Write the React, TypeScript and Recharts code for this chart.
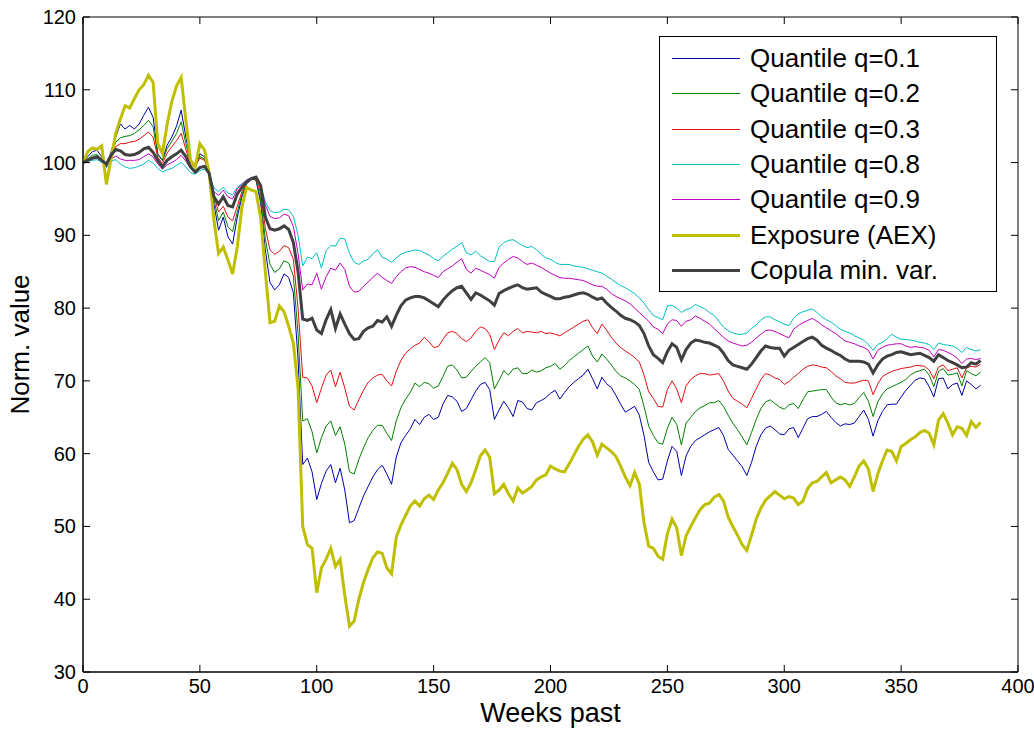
import { LineChart, Line, XAxis, YAxis, Legend, ReferenceArea } from "recharts";

// weekly values, read every 2 weeks off the original plot
const weeks = [
  0, 2, 4, 6, 8, 10, 12, 14, 16, 18,
  20, 22, 24, 26, 28, 30, 32, 34, 36, 38,
  40, 42, 44, 46, 48, 50, 52, 54, 56, 58,
  60, 62, 64, 66, 68, 70, 72, 74, 76, 78,
  80, 82, 84, 86, 88, 90, 92, 94, 96, 98,
  100, 102, 104, 106, 108, 110, 112, 114, 116, 118,
  120, 122, 124, 126, 128, 130, 132, 134, 136, 138,
  140, 142, 144, 146, 148, 150, 152, 154, 156, 158,
  160, 162, 164, 166, 168, 170, 172, 174, 176, 178,
  180, 182, 184, 186, 188, 190, 192, 194, 196, 198,
  200, 202, 204, 206, 208, 210, 212, 214, 216, 218,
  220, 222, 224, 226, 228, 230, 232, 234, 236, 238,
  240, 242, 244, 246, 248, 250, 252, 254, 256, 258,
  260, 262, 264, 266, 268, 270, 272, 274, 276, 278,
  280, 282, 284, 286, 288, 290, 292, 294, 296, 298,
  300, 302, 304, 306, 308, 310, 312, 314, 316, 318,
  320, 322, 324, 326, 328, 330, 332, 334, 336, 338,
  340, 342, 344, 346, 348, 350, 352, 354, 356, 358,
  360, 362, 364, 366, 368, 370, 372, 374, 376, 378,
  380, 382, 384,
];

const q01 = [
  100, 100.8, 101.5, 101.7, 100.8, 99.4, 101.5, 103.5, 105.3, 104.6,
  105.1, 104.6, 105.3, 106.5, 107.6, 106.2, 101.2, 100.3, 102.4, 103.5,
  105.0, 107.2, 103.5, 100.3, 99.4, 101.2, 100.8, 98.5, 94.3, 90.7,
  92.5, 89.8, 88.8, 92.5, 95.3, 97.1, 97.8, 97.6, 94.5, 88.0,
  83.5, 82.5, 83.2, 84.7, 84.2, 82.1, 73.0, 58.5, 59.4, 57.5,
  53.7, 55.9, 57.6, 58.5, 56.0, 58.0, 55.0, 50.5, 50.8, 52.5,
  54.2, 55.5, 56.8, 57.8, 58.4, 57.2, 55.8, 59.5, 61.5, 62.5,
  63.4, 64.7, 64.0, 65.0, 65.4, 64.7, 65.0, 66.8, 68.0, 67.8,
  67.2, 65.8, 66.2, 67.4, 68.6, 69.5, 69.8, 68.8, 64.7, 66.0,
  67.2, 66.3, 65.1, 67.3, 67.1, 66.2, 66.0, 67.0, 67.3, 67.7,
  68.3, 68.7, 67.5, 68.4, 69.2, 69.8, 70.3, 70.8, 71.6, 70.3,
  68.9, 70.5, 69.6, 69.1, 68.0, 66.8, 65.7, 66.1, 66.5, 65.3,
  62.5, 58.8, 57.5, 56.4, 56.5, 59.0, 61.0, 60.3, 57.0, 59.7,
  61.0, 61.8, 62.2, 62.6, 63.0, 63.3, 63.6, 62.5, 60.6, 59.8,
  59.0, 58.2, 57.0, 58.8, 61.0, 62.6, 63.5, 63.8, 63.3, 62.7,
  62.6, 63.4, 63.6, 62.2, 63.5, 64.8, 65.1, 65.1, 65.4, 65.8,
  65.0, 64.3, 63.8, 64.1, 64.0, 64.2, 65.1, 66.0, 64.7, 62.4,
  64.5, 65.8, 66.7, 66.8, 66.8, 67.8, 68.7, 69.4, 70.1, 70.4,
  70.3, 69.2, 67.8, 70.3, 70.4, 68.9, 69.5, 69.7, 68.0, 70.0,
  69.5, 68.9, 69.4,
];

const q02 = [
  100, 100.5, 101.0, 101.1, 100.5, 99.6, 101.2, 102.8, 103.4, 103.6,
  103.7, 104.0, 104.5, 105.1, 105.8, 104.9, 101.0, 100.3, 101.9, 102.9,
  104.0, 105.6, 102.6, 100.0, 99.6, 100.8, 100.5, 98.7, 95.0, 92.0,
  93.2, 91.2, 90.5, 93.2, 95.6, 97.2, 97.8, 97.6, 95.0, 89.5,
  86.0, 84.9, 85.4, 86.5, 86.2, 84.4, 76.5, 64.5, 64.8, 63.0,
  60.1, 62.2, 63.8, 64.5, 62.5, 63.7, 61.3, 57.5, 57.2, 59.2,
  60.8, 62.2, 63.2, 63.9, 63.9, 62.8, 61.8, 64.5, 66.3, 67.5,
  68.4, 69.7, 69.2, 69.8, 69.6, 69.0, 69.3, 70.6, 72.0, 72.2,
  71.5, 70.4, 70.5, 71.3, 72.0, 72.6, 73.2, 72.5, 68.9, 70.1,
  71.4, 70.8, 71.6, 71.8, 71.0, 71.0, 71.5, 71.2, 71.4, 71.8,
  72.0, 72.4, 71.6, 72.1, 72.8, 73.3, 73.8, 74.3, 74.8, 73.4,
  72.6, 73.7, 73.0, 72.2, 71.3, 70.7, 70.4, 70.0, 69.5, 68.8,
  66.5, 63.8, 62.5, 61.5, 61.3, 63.5, 65.0, 64.0, 61.2, 64.2,
  65.0, 65.8, 66.3, 66.6, 67.0, 67.0, 67.3, 66.5, 65.3, 64.2,
  63.3, 62.3, 61.2, 62.9, 64.7, 66.2, 67.1, 67.4, 66.9, 66.4,
  66.1, 66.7, 66.9, 66.2, 67.4, 68.5, 68.6, 68.7, 68.8, 68.8,
  67.8, 67.0, 66.7, 66.9, 66.7, 66.9, 67.7, 68.4, 67.2, 65.1,
  67.1, 68.2, 68.9, 69.2, 69.5, 69.8, 70.2, 70.8, 71.2, 71.4,
  71.6, 70.8, 69.2, 71.3, 71.7, 70.8, 70.9, 71.1, 69.3, 71.4,
  71.0, 70.7, 71.2,
];

const q03 = [
  100, 100.4, 100.7, 100.8, 100.4, 99.7, 101.0, 102.2, 102.6, 102.6,
  102.8, 102.9, 103.2, 103.7, 104.2, 103.5, 100.7, 99.9, 101.3, 102.2,
  103.0, 104.0, 101.8, 99.6, 99.5, 100.6, 100.3, 98.8, 95.5, 93.2,
  94.0, 92.5, 92.0, 94.0, 96.0, 97.3, 97.9, 97.7, 95.8, 91.0,
  88.0, 87.4, 87.8, 88.6, 88.3, 86.7, 80.0, 70.5, 70.4, 69.3,
  67.0, 69.0, 70.8, 71.5, 69.2, 71.2, 69.0, 66.5, 66.0, 67.4,
  68.7, 69.8, 70.4, 70.8, 70.9, 70.0, 69.3, 71.3, 72.8, 73.8,
  74.4, 74.9, 75.2, 76.0, 75.4, 74.6, 74.7, 75.7, 76.6, 76.8,
  76.5, 75.8, 75.4, 75.9, 76.8, 77.4, 77.2, 76.4, 74.3, 75.6,
  76.6, 76.2, 76.8, 77.2, 76.6, 76.8, 76.7, 76.6, 76.8, 76.5,
  76.6, 76.4, 76.2, 76.6, 77.0, 77.4, 77.8, 78.2, 78.4, 77.3,
  76.5, 77.8, 77.0, 76.0, 75.2, 74.6, 74.1, 73.7, 73.2, 72.6,
  70.8, 68.5, 67.6, 66.5, 66.4, 68.8, 70.0, 68.9, 67.0, 69.3,
  70.2, 70.7, 71.0, 71.0, 70.8, 70.9, 71.0, 70.0, 68.6, 67.6,
  67.2, 66.8, 66.3, 67.6, 68.9, 70.2, 71.0, 70.8, 70.4, 70.2,
  69.5, 69.9, 70.5, 71.0, 71.6, 72.0, 72.2, 72.1, 71.9, 71.8,
  71.3, 70.7, 70.3, 69.8, 69.7, 69.7, 69.9, 70.1, 70.0, 68.1,
  69.6, 70.6, 71.0, 71.3, 71.5, 71.7, 71.8, 71.9, 72.1, 72.1,
  72.0, 71.5, 70.3, 71.9, 72.2, 71.4, 71.6, 71.8, 70.4, 71.8,
  72.0, 71.9, 72.3,
];

const q08 = [
  100, 100.2, 100.3, 100.4, 100.0, 99.3, 100.2, 100.4, 99.8, 99.4,
  99.2, 99.3, 99.5, 99.8, 100.3, 99.9, 99.2, 98.7, 99.0, 99.2,
  99.6, 100.0, 99.4, 98.6, 98.4, 98.9, 99.1, 98.4, 96.5, 96.0,
  96.6, 95.8, 95.6, 96.6, 97.1, 97.6, 97.9, 98.0, 97.0, 94.6,
  93.4, 93.1, 93.2, 93.6, 93.5, 92.6, 90.0, 85.8, 87.0, 86.8,
  87.6, 85.5, 87.9, 88.6, 88.5, 89.6, 89.5, 87.5, 86.3, 86.0,
  86.5, 86.7, 87.5, 88.0, 87.0, 86.7, 86.3, 86.9, 87.4, 87.7,
  87.8, 88.0, 87.9, 87.6, 87.3, 86.8, 86.5, 87.1, 87.6, 88.1,
  88.5, 89.0, 87.6, 87.3, 87.8, 87.2, 86.8, 86.4, 86.4, 88.4,
  89.0, 89.3, 89.4, 89.0, 88.6, 88.3, 88.5, 88.0, 87.4, 86.9,
  86.7, 86.3, 86.0, 86.0, 86.0, 85.8, 85.7, 85.6, 85.4, 85.2,
  85.0, 84.8, 84.4, 84.0, 83.5, 83.1, 82.8, 82.4, 82.0, 81.4,
  80.7, 79.8, 79.0, 78.7, 78.4, 80.3, 80.4, 80.0, 79.4, 79.8,
  80.0, 80.5, 80.2, 79.9, 79.4, 79.0, 78.2, 77.4, 76.9, 76.6,
  76.4, 76.4, 76.6, 77.2, 77.7, 78.4, 78.8, 78.8, 78.4, 78.1,
  77.8, 77.6, 78.6, 79.2, 79.5, 79.7, 79.9, 79.4, 78.8, 78.4,
  78.1, 77.6, 77.1, 76.8, 76.6, 76.2, 75.9, 75.6, 75.0, 74.2,
  75.0, 75.3, 75.8, 76.4, 76.0, 75.7, 75.7, 75.6, 75.5, 75.3,
  75.2, 75.0, 74.3, 75.2, 75.0, 74.9, 74.8, 74.5, 73.9, 74.6,
  74.3, 74.1, 74.3,
];

const q09 = [
  100, 100.3, 100.5, 100.6, 100.2, 99.5, 100.5, 100.9, 100.5, 100.3,
  100.3, 100.3, 100.4, 100.8, 101.2, 100.8, 99.8, 99.1, 99.7, 100.0,
  100.4, 101.0, 100.2, 99.2, 98.8, 99.4, 99.5, 98.6, 96.0, 95.5,
  96.2, 95.3, 95.0, 96.4, 97.0, 97.6, 97.9, 98.0, 96.9, 94.2,
  92.6, 92.3, 92.4, 92.9, 92.7, 91.2, 87.5, 82.5, 83.3, 83.2,
  84.8, 82.6, 84.3, 85.5, 85.2, 86.2, 85.3, 83.0, 82.2, 82.3,
  83.0, 83.6, 84.2, 84.8, 84.2, 83.8, 83.4, 84.3, 85.0, 85.5,
  85.7, 85.6, 85.3, 85.0, 84.8, 84.5, 84.2, 85.0, 85.4, 85.8,
  86.3, 86.8, 85.3, 84.8, 85.5, 85.2, 84.9, 84.6, 84.1, 85.6,
  86.2, 86.7, 87.1, 86.9, 86.4, 86.0, 86.2, 85.9, 85.6, 85.2,
  84.8, 84.5, 84.2, 84.1, 84.1, 84.0, 83.9, 83.8, 83.5, 83.2,
  83.0, 83.0, 82.6, 82.0, 81.6, 81.3, 81.0, 80.6, 80.0, 79.4,
  78.8, 78.2, 77.4, 77.1, 76.5, 77.8, 78.4, 78.3, 77.5, 78.2,
  78.4, 78.9, 78.6, 78.2, 77.8, 77.2, 76.6, 76.0, 75.5, 75.2,
  75.0, 74.8, 74.9, 75.3, 75.9, 76.4, 76.9, 77.0, 76.8, 76.5,
  76.2, 75.9, 77.1, 77.6, 78.0, 78.3, 78.6, 78.2, 77.7, 77.3,
  76.9, 76.5, 76.0, 75.5, 75.3, 75.1, 74.8, 74.6, 74.2, 73.0,
  74.2, 74.6, 74.9, 75.0, 75.1, 75.1, 74.8, 74.6, 74.7, 74.6,
  74.5, 74.2, 73.3, 74.3, 74.2, 73.9, 73.6, 73.1, 72.4, 73.0,
  73.1, 72.9, 73.1,
];

const aex = [
  100, 101.5, 102.0, 101.8, 102.3, 97.0, 100.5, 104.0, 106.0, 107.8,
  107.5, 108.8, 110.0, 110.7, 112.0, 111.0, 102.6, 101.2, 105.3, 108.4,
  110.5, 111.7, 105.8, 100.3, 99.4, 102.6, 101.7, 98.5, 92.1, 87.5,
  88.4, 86.6, 84.7, 88.4, 93.9, 96.6, 96.2, 96.0, 92.5, 85.0,
  78.0, 78.2, 80.3, 79.5, 77.5, 75.2, 69.0, 50.0, 47.5, 47.0,
  40.9, 44.3, 45.5, 47.0, 44.5, 45.5, 40.5, 36.3, 37.0, 40.0,
  42.3, 44.1, 45.7, 46.5, 46.3, 44.3, 43.5, 48.5, 50.2, 51.5,
  52.8, 53.5, 52.8, 53.8, 54.3, 53.7, 55.0, 56.0, 57.3, 58.7,
  57.8, 55.8, 54.8, 56.0, 57.8, 59.7, 60.5, 59.5, 54.5, 55.0,
  55.8, 54.5, 53.5, 55.3, 54.6, 55.0, 55.5, 56.4, 56.8, 57.1,
  58.3, 57.9, 57.6, 57.5, 58.6, 59.8, 61.0, 62.0, 62.6, 61.6,
  59.8, 61.3, 60.8, 60.3, 59.6, 58.3, 56.8, 55.6, 57.4, 55.8,
  50.5, 47.3, 47.0, 45.9, 45.5, 49.0, 51.0, 49.8, 46.0, 48.7,
  50.0, 51.2, 52.3, 53.0, 53.2, 54.0, 54.4, 53.5, 51.3, 50.0,
  48.8, 47.5, 46.7, 48.8, 51.0, 52.5, 53.6, 54.2, 54.8, 54.3,
  53.8, 54.1, 53.9, 53.0, 53.5, 55.2, 56.0, 56.2, 56.8, 57.4,
  56.0, 56.4, 56.8, 56.4, 55.5, 56.8, 58.3, 59.0, 57.9, 54.8,
  57.2, 59.0, 60.5, 60.3, 59.0, 61.0, 61.4, 61.9, 62.3, 62.9,
  63.2, 62.8, 61.2, 64.6, 65.5, 64.2, 62.6, 63.7, 63.5, 62.5,
  64.4, 63.6, 64.3,
];

const copula = [
  100, 100.3, 100.6, 100.8, 100.3, 99.8, 101.0, 101.8, 101.6, 101.1,
  101.0, 101.1, 101.4, 101.9, 102.1, 101.4, 100.3, 99.4, 100.3, 100.8,
  101.2, 101.7, 100.8, 99.4, 98.7, 99.3, 99.5, 98.5, 95.3, 94.3,
  95.3, 94.1, 93.9, 95.7, 96.6, 97.3, 97.8, 98.0, 96.8, 92.5,
  90.9, 90.7, 90.9, 91.3, 90.8, 89.0, 85.0, 78.5, 78.3, 78.6,
  77.0, 76.5, 78.4, 79.8, 77.2, 79.2, 77.8, 76.5, 75.7, 75.8,
  76.8, 77.3, 77.5, 78.3, 78.1, 78.8, 77.5, 79.0, 80.3, 81.1,
  81.4, 81.6, 81.6, 81.4, 81.0, 80.6, 80.2, 81.1, 81.8, 82.4,
  82.8, 83.0, 82.1, 81.2, 82.1, 81.8, 81.4, 81.0, 80.4, 82.0,
  82.4, 82.7, 83.0, 83.2, 82.8, 82.6, 82.7, 82.8, 82.2, 81.9,
  81.6, 81.3, 81.3, 81.5, 81.6, 81.8, 82.0, 82.1, 81.9, 81.5,
  81.2, 81.4, 80.7, 80.1, 79.6, 79.0, 78.6, 78.4, 78.1, 77.6,
  76.5, 74.8, 73.6, 73.1, 72.5, 74.0, 75.1, 74.6, 72.9, 74.3,
  75.2, 75.6, 75.5, 75.3, 75.2, 74.9, 74.6, 73.8, 72.8, 72.2,
  72.0, 71.8, 71.6, 72.3, 73.2, 74.1, 74.8, 74.6, 74.5, 74.5,
  73.4, 74.2, 74.6, 75.0, 75.4, 75.8, 76.0, 75.6, 74.9, 74.5,
  74.2, 73.8, 73.5, 73.0, 72.7, 72.7, 72.7, 72.6, 72.3, 71.1,
  72.2, 73.0, 73.4, 73.6, 73.9, 74.0, 73.8, 73.6, 73.7, 73.8,
  73.5, 73.2, 72.7, 73.6, 73.2, 72.8, 72.5, 72.2, 71.8, 71.9,
  72.5, 72.3, 72.8,
];

const yTicks = [30, 40, 50, 60, 70, 80, 90, 100, 110, 120];
const xTicks = [0, 50, 100, 150, 200, 250, 300, 350, 400];

// drawing order follows the original: quantiles first, copula on top
const SERIES = [
  { key: "q01", name: "Quantile q=0.1", color: "#0000a8", width: 1, values: q01 },
  { key: "q02", name: "Quantile q=0.2", color: "#008000", width: 1, values: q02 },
  { key: "q03", name: "Quantile q=0.3", color: "#e01010", width: 1, values: q03 },
  { key: "q08", name: "Quantile q=0.8", color: "#00bfbf", width: 1, values: q08 },
  { key: "q09", name: "Quantile q=0.9", color: "#bf00bf", width: 1, values: q09 },
  { key: "aex", name: "Exposure (AEX)", color: "#bfbf00", width: 3, values: aex },
  { key: "copula", name: "Copula min. var.", color: "#404040", width: 3, values: copula },
];

const rows = weeks.map((week, i) => {
  const row: Record<string, number> = { week };
  SERIES.forEach((s) => {
    row[s.key] = s.values[i];
  });
  return row;
});

const W = 1034;
const H = 731;
const PLOT_TOP = 17;
const PLOT_RIGHT = 1018;
const TICK = 7;
const FONT = "'Liberation Sans', Arial, Helvetica, sans-serif";

function XTick({ x, y, payload }: any) {
  return (
    <g>
      <line x1={x} y1={y} x2={x} y2={y - TICK} stroke="#000" />
      <line x1={x} y1={PLOT_TOP} x2={x} y2={PLOT_TOP + TICK} stroke="#000" />
      <text x={x} y={y + 21} textAnchor="middle" fontSize={20} fill="#000">
        {payload.value}
      </text>
    </g>
  );
}

function YTick({ x, y, payload }: any) {
  return (
    <g>
      <line x1={x} y1={y} x2={x + TICK} y2={y} stroke="#000" />
      <line x1={PLOT_RIGHT} y1={y} x2={PLOT_RIGHT - TICK} y2={y} stroke="#000" />
      <text x={x - 7} y={y + 7} textAnchor="end" fontSize={20} fill="#000">
        {payload.value}
      </text>
    </g>
  );
}

function BoxLegend() {
  return (
    <div
      style={{
        boxSizing: "border-box",
        width: 338,
        height: 256,
        border: "1px solid #000",
        background: "#fff",
        paddingTop: 4,
        fontFamily: FONT,
      }}
    >
      {SERIES.map((s) => (
        <div key={s.key} style={{ display: "flex", alignItems: "center", height: 35.3 }}>
          <div style={{ marginLeft: 12, width: 68, borderTop: `${s.width}px solid ${s.color}` }} />
          <span style={{ marginLeft: 10, fontSize: 26, color: "#000", whiteSpace: "nowrap" }}>
            {s.name}
          </span>
        </div>
      ))}
    </div>
  );
}

export default function App() {
  return (
    <div
      style={{
        position: "absolute",
        left: 0,
        top: 0,
        width: W,
        height: H,
        background: "#fff",
        fontFamily: FONT,
      }}
    >
      <LineChart width={W} height={H} data={rows} margin={{ top: PLOT_TOP, right: W - PLOT_RIGHT, bottom: 0, left: 0 }}>
        <XAxis
          dataKey="week"
          type="number"
          domain={[0, 400]}
          ticks={xTicks}
          height={59}
          tickSize={0}
          tickMargin={0}
          tickLine={false}
          axisLine={{ stroke: "#000" }}
          tick={<XTick />}
          interval={0}
          label={{ value: "Weeks past", position: "insideBottom", offset: 9, fontSize: 27, fill: "#000" }}
        />
        <YAxis
          type="number"
          domain={[30, 120]}
          ticks={yTicks}
          width={83}
          tickSize={0}
          tickMargin={0}
          tickLine={false}
          axisLine={{ stroke: "#000" }}
          tick={<YTick />}
          interval={0}
          label={{
            value: "Norm. value",
            angle: -90,
            position: "insideLeft",
            offset: 20,
            fontSize: 26,
            fill: "#000",
            style: { textAnchor: "middle" },
          }}
        />
        <ReferenceArea x1={0} x2={400} y1={30} y2={120} fill="none" stroke="#000" strokeWidth={1} />
        {SERIES.map((s) => (
          <Line
            key={s.key}
            type="linear"
            dataKey={s.key}
            name={s.name}
            stroke={s.color}
            strokeWidth={s.width}
            dot={false}
            activeDot={false}
            isAnimationActive={false}
          />
        ))}
        <Legend
          layout="vertical"
          align="center"
          verticalAlign="middle"
          content={() => <BoxLegend />}
          wrapperStyle={{ position: "absolute", left: 659, top: 36, width: 338, height: 256 }}
        />
      </LineChart>
    </div>
  );
}
